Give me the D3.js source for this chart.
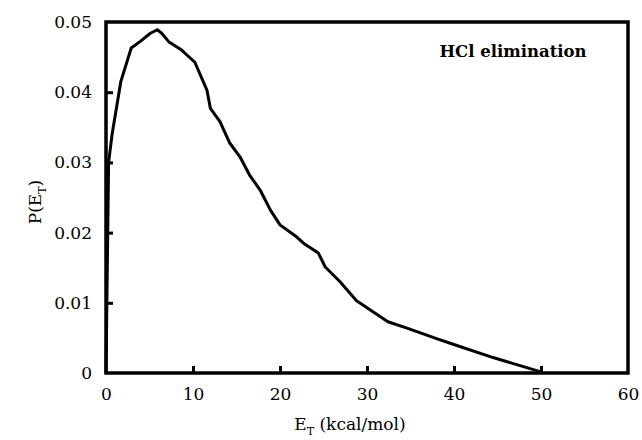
<!DOCTYPE html>
<html><head><meta charset="utf-8">
<script src="https://cdn.jsdelivr.net/npm/d3@7"></script>
<style>body{margin:0;background:#fff}svg{display:block}svg text{font-family:"DejaVu Serif",serif !important;fill:#000}</style>
</head><body>
<script>
const energy = [0,0.3,0.7,1.7,2.9,3.9,5.1,5.9,6.4,7.2,8.7,9.3,10.2,11.6,12.0,13.1,14.2,15.4,16.5,17.7,18.9,20.0,21.9,22.7,24.4,25.2,26.9,28.8,32.4,34.6,38.0,39.9,44.5,49.9];
const prob = [0,0.030,0.034,0.0415,0.0463,0.0472,0.0484,0.0489,0.0484,0.0472,0.0460,0.0453,0.0443,0.0403,0.0377,0.0358,0.0328,0.0308,0.0282,0.0261,0.0232,0.0211,0.0194,0.0185,0.0171,0.0151,0.0130,0.0103,0.0073,0.0064,0.0049,0.0041,0.0022,0.0002];
const xTicks = [0,10,20,30,40,50,60];
const yTicks = [0,0.01,0.02,0.03,0.04,0.05];
const yTickLabels = ["0","0.01","0.02","0.03","0.04","0.05"];
const title = "HCl elimination";

const W=642,H=440;
const m={l:106,r:642-628,t:22,b:440-373};
const svg=d3.select("body").append("svg").attr("width",W).attr("height",H);
const x=d3.scaleLinear().domain([0,60]).range([m.l,W-m.r]);
const y=d3.scaleLinear().domain([0,0.05]).range([H-m.b,m.t]);

const gx=svg.append("g").attr("transform",`translate(0,${y(0)})`)
  .call(d3.axisBottom(x).tickValues(xTicks).tickSize(-7).tickPadding(12).tickFormat(d3.format("d")));
const gy=svg.append("g").attr("transform",`translate(${x(0)},0)`)
  .call(d3.axisLeft(y).tickValues(yTicks).tickSize(-7).tickPadding(14).tickFormat((d,i)=>yTickLabels[i]));
[gx,gy].forEach(g=>{
  g.attr("font-family",null);
  g.select(".domain").remove();
  g.selectAll(".tick line").attr("stroke","#000").attr("stroke-width",3);
  g.selectAll(".tick text").attr("font-size",17);
});
gx.selectAll(".tick text").attr("dy","0.9em");
gx.selectAll(".tick").filter(d=>d===0||d===60).select("line").remove();
gy.selectAll(".tick").filter(d=>d===0||d===0.05).select("line").remove();

svg.append("rect").attr("x",x(0)).attr("y",y(0.05)).attr("width",x(60)-x(0)).attr("height",y(0)-y(0.05))
  .attr("fill","none").attr("stroke","#000").attr("stroke-width",3.5);

const line=d3.line().x((d,i)=>x(energy[i])).y((d,i)=>y(prob[i]));
svg.append("path").datum(energy).attr("d",line).attr("fill","none").attr("stroke","#000")
  .attr("stroke-width",3).attr("stroke-linejoin","round");

svg.append("text").attr("x",513).attr("y",57).attr("text-anchor","middle")
  .attr("font-size",16.5).attr("font-weight","bold").text(title);

const xl=svg.append("text").attr("x",350).attr("y",430).attr("text-anchor","middle").attr("font-size",17);
xl.append("tspan").text("E");
xl.append("tspan").attr("font-size",11).attr("dy",5).text("T");
xl.append("tspan").attr("dy",-5).text(" (kcal/mol)");

const yl=svg.append("text").attr("transform","translate(41,202) rotate(-90)").attr("text-anchor","middle").attr("font-size",17);
yl.append("tspan").text("P(E");
yl.append("tspan").attr("font-size",11).attr("dy",5).text("T");
yl.append("tspan").attr("dy",-5).text(")");
</script>
</body></html>
